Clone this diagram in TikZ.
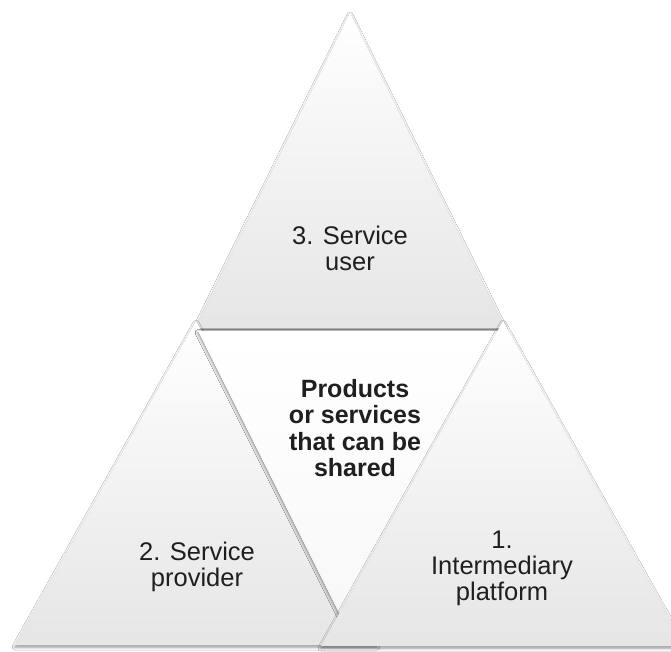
\documentclass[tikz,border=0pt]{standalone}
\usepackage{fontspec}
\setmainfont{Liberation Sans}
\usetikzlibrary{shadows.blur}
\tikzset{
  tri/.style={top color=white, bottom color=black!10,
    blur shadow={shadow xshift=0pt, shadow yshift=-2pt, shadow blur radius=3pt, shadow opacity=45}},
  lbl/.style={align=center, font=\fontsize{25.5}{26}\selectfont, text=black!88, inner sep=0pt}
}
\begin{document}
\begin{tikzpicture}[x=1pt,y=-1pt]
\useasboundingbox (0,0) rectangle (671,652);
\clip (0,0) rectangle (671,652);
\fill[white] (0,0) rectangle (671,652);
% top triangle
\path[tri] (350,13) -- (505,328) -- (195,328) -- cycle;
% left triangle
\path[tri] (196,321) -- (377,645) -- (15,645) -- cycle;
% centre inverted triangle
\path[tri, top color=white, bottom color=black!3,
  blur shadow={shadow xshift=0pt, shadow yshift=-1.5pt, shadow blur radius=3pt, shadow opacity=30}]
  (198,331) -- (502,331) -- (350,635) -- cycle;
% right triangle
\path[tri] (503,321) -- (685,646) -- (321,646) -- cycle;
% labels
\node[lbl] (t3) at (350,248) {3. Service\\user};
\node[lbl] (t2) at (197,567) {2. Service\\provider};
\node[lbl] (t1) at (502,568) {1.\\Intermediary\\platform};
\node[lbl, font=\fontsize{25}{26.5}\selectfont\bfseries] (tc) at (355,428) {Products\\or services\\that can be\\shared};
\end{tikzpicture}
\end{document}
